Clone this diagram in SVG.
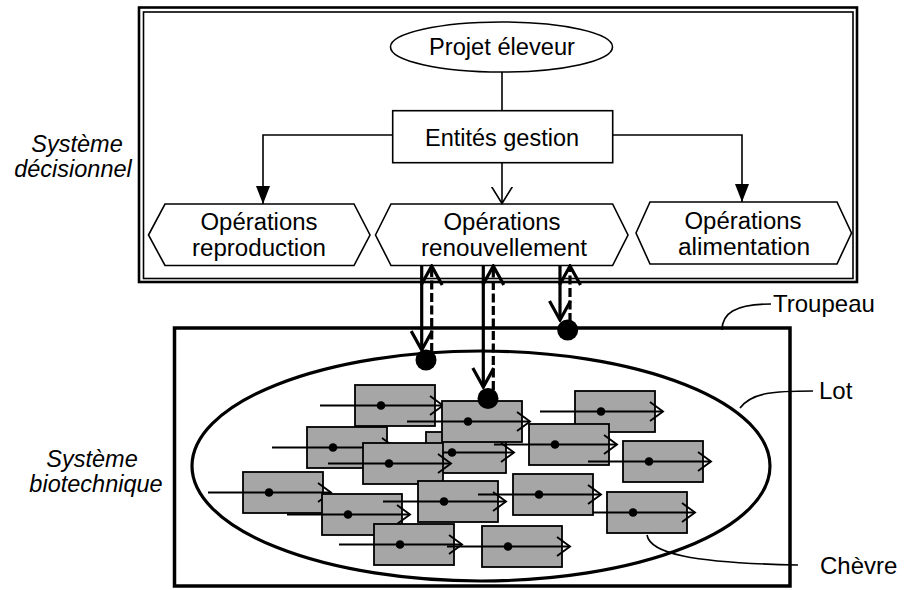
<svg xmlns="http://www.w3.org/2000/svg" xmlns:xlink="http://www.w3.org/1999/xlink" width="911" height="590" viewBox="0 0 911 590">
<style>
text{font-family:"Liberation Sans",Arial,sans-serif;fill:#000}
.t{font-size:23.5px;text-anchor:middle}
.h{font-size:23.5px;text-anchor:middle}
.lbl{font-size:24px}
.it{font-size:23.5px;font-style:italic;text-anchor:middle}
.shape{fill:#fff;stroke:#000;stroke-width:1.6}
.thin{fill:none;stroke:#000;stroke-width:1.6}
.thick{fill:none;stroke:#000;stroke-width:3.2}
.dash{fill:none;stroke:#000;stroke-width:3.2;stroke-dasharray:9 3.5}
.leader{fill:none;stroke:#000;stroke-width:1.6}
.goatbox{fill:#a6a6a6;stroke:#000;stroke-width:1.8}
.goatline{fill:none;stroke:#000;stroke-width:1.9}
</style>
<defs>
<marker id="tri" viewBox="0 0 18 14" refX="18" refY="7" markerWidth="18" markerHeight="14" markerUnits="userSpaceOnUse" orient="auto">
<path d="M0,0 L18,7 L0,14 Z" fill="#000"/>
</marker>
<marker id="vee" viewBox="0 0 18 22" refX="17" refY="11" markerWidth="18" markerHeight="22" markerUnits="userSpaceOnUse" orient="auto">
<path d="M0,0.5 L17,11 L0,21.5" fill="none" stroke="#000" stroke-width="1.6"/>
</marker>
<marker id="veeB" viewBox="0 0 22 24" refX="20" refY="12" markerWidth="22" markerHeight="24" markerUnits="userSpaceOnUse" orient="auto">
<path d="M1,1.5 L20,12 L1,22.5" fill="none" stroke="#000" stroke-width="3.2"/>
</marker>
<g id="goat">
<rect class="goatbox" x="0" y="0" width="80" height="41"/>
<line class="goatline" x1="-35" y1="20.5" x2="88" y2="20.5"/>
<polyline class="goatline" points="75,11 88,20.5 75,30"/>
<circle cx="26" cy="20.5" r="4.3" fill="#000"/>
</g>
</defs>

<!-- Side labels -->
<g id="label-decisionnel">
<text class="it" x="77" y="152">Système</text>
<text class="it" x="73" y="177">décisionnel</text>
</g>
<g id="label-biotechnique">
<text class="it" x="92" y="467">Système</text>
<text class="it" x="96" y="492">biotechnique</text>
</g>

<!-- Decision system frame -->
<g id="frame-decision">
<rect x="139" y="7.5" width="718" height="274.5" fill="none" stroke="#000" stroke-width="2.6"/>
<rect x="143.5" y="12" width="709.5" height="266.5" fill="none" stroke="#000" stroke-width="1.6"/>
</g>

<!-- Troupeau and lot -->
<g id="troupeau">
<rect x="174.5" y="328" width="615.5" height="258" fill="none" stroke="#000" stroke-width="3.5"/>
</g>
<g id="lot">
<ellipse cx="481" cy="466" rx="289" ry="115" fill="none" stroke="#000" stroke-width="3.2"/>
</g>

<!-- Nodes of decision system -->
<g id="projet-eleveur">
<ellipse class="shape" cx="501.5" cy="47" rx="111" ry="25"/>
<text class="t" x="502" y="54.5" textLength="146" lengthAdjust="spacingAndGlyphs">Projet éleveur</text>
</g>
<g id="entites-gestion">
<rect class="shape" x="392.7" y="110.7" width="220" height="52"/>
<text class="t" x="502" y="146" textLength="154" lengthAdjust="spacingAndGlyphs">Entités gestion</text>
</g>
<g id="op-reproduction">
<polygon class="shape" points="148.5,235 165,204 354,204 370,235 354,265.5 165,265.5"/>
<text class="h" x="259" y="230" textLength="117" lengthAdjust="spacingAndGlyphs">Opérations</text>
<text class="h" x="259" y="256" textLength="134" lengthAdjust="spacingAndGlyphs">reproduction</text>
</g>
<g id="op-renouvellement">
<polygon class="shape" points="375.5,235 391,204 612.6,204 628,235 612.6,265.5 391,265.5"/>
<text class="h" x="502" y="230" textLength="117" lengthAdjust="spacingAndGlyphs">Opérations</text>
<text class="h" x="504" y="256" textLength="166" lengthAdjust="spacingAndGlyphs">renouvellement</text>
</g>
<g id="op-alimentation">
<polygon class="shape" points="636,233 650,202 837,202 851.5,233 837,264 650,264"/>
<text class="h" x="743" y="229" textLength="117" lengthAdjust="spacingAndGlyphs">Opérations</text>
<text class="h" x="744" y="255" textLength="132" lengthAdjust="spacingAndGlyphs">alimentation</text>
</g>

<!-- Goats -->
<g id="goat-B"><use xlink:href="#goat" x="307" y="427"/></g>
<g id="goat-A"><use xlink:href="#goat" x="355" y="385"/></g>
<g id="goat-D"><use xlink:href="#goat" x="426" y="432"/></g>
<g id="goat-C"><use xlink:href="#goat" x="363" y="443"/></g>
<g id="goat-E"><use xlink:href="#goat" x="442" y="401"/></g>
<g id="goat-M"><use xlink:href="#goat" x="575" y="391"/></g>
<g id="goat-L"><use xlink:href="#goat" x="529" y="424"/></g>
<g id="goat-N"><use xlink:href="#goat" x="623" y="441"/></g>
<g id="goat-F"><use xlink:href="#goat" x="243" y="472"/></g>
<g id="goat-G"><use xlink:href="#goat" x="322" y="494"/></g>
<g id="goat-H"><use xlink:href="#goat" x="418" y="481"/></g>
<g id="goat-O"><use xlink:href="#goat" x="607" y="492"/></g>
<g id="goat-K"><use xlink:href="#goat" x="513" y="474"/></g>
<g id="goat-I"><use xlink:href="#goat" x="374" y="524"/></g>
<g id="goat-J"><use xlink:href="#goat" x="482" y="526"/></g>

<!-- Connectors -->
<g id="connectors">
<line class="thin" x1="502" y1="72" x2="502" y2="110.7"/>
<polyline class="thin" points="392.7,135 263,135 263,204" marker-end="url(#tri)"/>
<polyline class="thin" points="612.7,135 742,135 742,202" marker-end="url(#tri)"/>
<line class="thin" x1="502" y1="162.7" x2="502" y2="203.5" marker-end="url(#vee)"/>

<line class="thick" x1="421.7" y1="265.5" x2="421.7" y2="350" marker-end="url(#veeB)"/>
<line class="dash" x1="431.7" y1="352" x2="431.7" y2="266" marker-end="url(#veeB)"/>
<line class="thick" x1="483.3" y1="265.5" x2="483.3" y2="387" marker-end="url(#veeB)"/>
<line class="dash" x1="493.3" y1="390" x2="493.3" y2="266" marker-end="url(#veeB)"/>
<line class="thick" x1="560" y1="265.5" x2="560" y2="320" marker-end="url(#veeB)"/>
<line class="dash" x1="570" y1="322" x2="570" y2="266" marker-end="url(#veeB)"/>
<circle cx="426" cy="360" r="10.5" fill="#000"/>
<circle cx="488" cy="398.5" r="10.5" fill="#000"/>
<circle cx="567.7" cy="330" r="10.5" fill="#000"/>

<path class="leader" d="M722,330 C722,314 734,304 771,304"/>
<path class="leader" d="M740,408 C752,392 775,391 813,391"/>
<path class="leader" d="M647,535 C650,553 690,563 798,565"/>
</g>

<!-- Right labels -->
<g id="label-troupeau"><text class="lbl" x="773" y="312">Troupeau</text></g>
<g id="label-lot"><text class="lbl" x="819" y="399">Lot</text></g>
<g id="label-chevre"><text class="lbl" x="820" y="574">Chèvre</text></g>
</svg>
